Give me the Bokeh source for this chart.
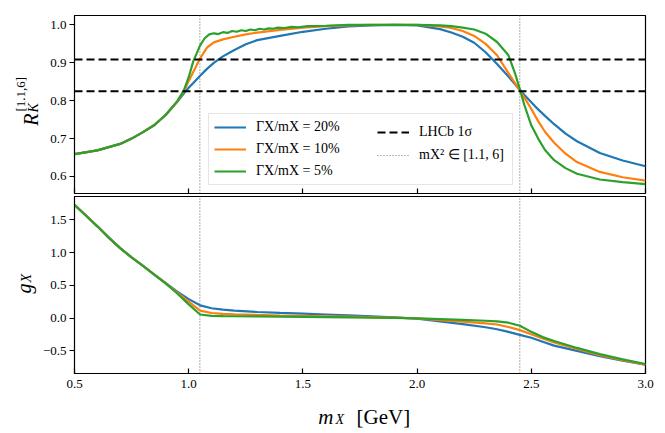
import numpy as np
from bokeh.plotting import figure
from bokeh.layouts import column
from bokeh.models import (Range1d, FixedTicker, Legend, LegendItem, Label, CustomJSTickFormatter)
from bokeh.embed import file_html
from bokeh.resources import INLINE

# ---------------- data ----------------
x_ticks = [0.5, 1.0, 1.5, 2.0, 2.5, 3.0]
rk_ticks = [0.6, 0.7, 0.8, 0.9, 1.0]
g_ticks = [-0.5, 0.0, 0.5, 1.0, 1.5]
rk_range = [0.555, 1.025]
g_range = [-0.845, 1.855]

series_labels = ["ΓX/mX = 20%", "ΓX/mX = 10%", "ΓX/mX = 5%"]
lhcb_label = "LHCb 1σ"
window_label = "mX² ∈ [1.1, 6]"
colors = ["#1f77b4", "#ff7f0e", "#2ca02c"]

lhcb_band = [0.825, 0.909]      # LHCb 1 sigma band on R_K
m2_window = [1.1, 6.0]          # q^2 window in GeV^2

x_rk = [0.5, 0.6, 0.7, 0.75, 0.8, 0.85, 0.9, 0.95, 0.98, 1.0, 1.02, 1.05, 1.08, 1.11,
        1.15, 1.2, 1.25, 1.3, 1.4, 1.5, 1.6, 1.7, 1.8, 1.9, 2.0, 2.1, 2.15, 2.2, 2.25,
        2.3, 2.35, 2.4, 2.43, 2.45, 2.47, 2.5, 2.53, 2.56, 2.6, 2.65, 2.7, 2.8, 2.9, 3.0]
rk_20 = [0.659, 0.669, 0.686, 0.700, 0.717, 0.736, 0.763, 0.797, 0.820, 0.834, 0.847,
         0.866, 0.884, 0.900, 0.917, 0.934, 0.949, 0.960, 0.971, 0.982, 0.990, 0.996,
         0.999, 1.000, 0.999, 0.989, 0.980, 0.969, 0.953, 0.928, 0.897, 0.864, 0.843,
         0.829, 0.815, 0.796, 0.777, 0.760, 0.738, 0.713, 0.693, 0.662, 0.642, 0.627]
rk_10 = [0.659, 0.669, 0.686, 0.700, 0.717, 0.736, 0.763, 0.798, 0.826, 0.852, 0.876,
         0.912, 0.940, 0.954, 0.962, 0.969, 0.975, 0.980, 0.987, 0.993, 0.997, 0.999,
         1.000, 1.000, 1.000, 0.996, 0.992, 0.984, 0.971, 0.950, 0.920, 0.873, 0.845,
         0.827, 0.808, 0.778, 0.746, 0.718, 0.689, 0.660, 0.638, 0.612, 0.598, 0.589]
x_rk_5 = [0.5, 0.6, 0.7, 0.75, 0.8, 0.85, 0.9, 0.95, 0.98, 1.0, 1.02, 1.05, 1.07, 1.09,
          1.11, 1.13, 1.15, 1.17, 1.19, 1.21, 1.23, 1.25, 1.27, 1.29, 1.31, 1.33, 1.35,
          1.37, 1.39, 1.42, 1.45, 1.48, 1.52, 1.6, 1.7, 1.8, 1.9, 2.0, 2.1, 2.15, 2.2,
          2.25, 2.3, 2.35, 2.4, 2.43, 2.45, 2.47, 2.5, 2.53, 2.56, 2.6, 2.65, 2.7, 2.8,
          2.9, 3.0]
rk_5 = [0.659, 0.669, 0.686, 0.700, 0.717, 0.736, 0.763, 0.799, 0.829, 0.862, 0.904,
        0.946, 0.965, 0.975, 0.978, 0.976, 0.981, 0.979, 0.984, 0.982, 0.986, 0.984,
        0.988, 0.986, 0.990, 0.988, 0.991, 0.990, 0.993, 0.992, 0.995, 0.994, 0.997,
        0.998, 1.000, 1.000, 1.000, 1.000, 0.999, 0.997, 0.993, 0.988, 0.977, 0.955,
        0.920, 0.870, 0.830, 0.788, 0.735, 0.700, 0.670, 0.643, 0.622, 0.607, 0.592,
        0.585, 0.580]

x_g = [0.5, 0.55, 0.6, 0.65, 0.7, 0.75, 0.8, 0.85, 0.9, 0.95, 1.0, 1.05, 1.1, 1.15, 1.2,
       1.3, 1.4, 1.5, 1.6, 1.7, 1.8, 1.9, 2.0, 2.1, 2.2, 2.3, 2.35, 2.4, 2.45, 2.5, 2.55,
       2.6, 2.7, 2.8, 2.9, 3.0]
g_20 = [1.727, 1.565, 1.400, 1.228, 1.067, 0.925, 0.795, 0.665, 0.535, 0.405, 0.290,
        0.195, 0.150, 0.128, 0.115, 0.093, 0.079, 0.067, 0.055, 0.042, 0.027, 0.010,
        -0.010, -0.050, -0.092, -0.140, -0.170, -0.210, -0.255, -0.300, -0.360, -0.420,
        -0.500, -0.580, -0.650, -0.712]
g_10 = [1.727, 1.565, 1.400, 1.228, 1.067, 0.925, 0.795, 0.663, 0.530, 0.390, 0.250,
        0.115, 0.078, 0.065, 0.057, 0.048, 0.040, 0.034, 0.028, 0.022, 0.015, 0.007,
        -0.003, -0.030, -0.055, -0.080, -0.098, -0.135, -0.183, -0.245, -0.310, -0.370,
        -0.470, -0.565, -0.640, -0.712]
g_5 = [1.727, 1.565, 1.400, 1.228, 1.067, 0.925, 0.795, 0.660, 0.525, 0.375, 0.210,
       0.055, 0.035, 0.030, 0.028, 0.025, 0.022, 0.019, 0.016, 0.012, 0.007, 0.002,
       -0.003, -0.015, -0.027, -0.040, -0.050, -0.070, -0.117, -0.210, -0.290, -0.350,
       -0.455, -0.550, -0.630, -0.700]

# ---------------- styling helpers ----------------
FONT = "Liberation Serif"
tick_fmt = CustomJSTickFormatter(code="return tick.toFixed(1).replace('-', '\\u2212');")


def style(p, yticks, show_x_labels):
    p.grid.visible = False
    p.outline_line_color = "black"
    p.outline_line_width = 1.2
    p.background_fill_color = "white"
    p.border_fill_color = "white"
    xa = p.xaxis[0]
    xa.ticker = FixedTicker(ticks=x_ticks)
    xa.major_tick_in = 5
    xa.major_tick_out = 0
    xa.minor_tick_line_color = None
    xa.axis_line_color = "black"
    xa.major_tick_line_color = "black"
    xa.major_tick_line_width = 1.2
    if show_x_labels:
        xa.formatter = tick_fmt
        xa.major_label_text_font = FONT
        xa.major_label_text_font_size = "13px"
        xa.major_label_text_color = "black"
        xa.major_label_standoff = 6
    else:
        xa.formatter = CustomJSTickFormatter(code="return '';")
        xa.major_label_text_font_size = "0px"
        xa.major_label_standoff = 0
    ya = p.yaxis[0]
    ya.ticker = FixedTicker(ticks=yticks)
    ya.formatter = tick_fmt
    ya.major_tick_in = 0
    ya.major_tick_out = 5
    ya.minor_tick_line_color = None
    ya.axis_line_color = "black"
    ya.major_tick_line_color = "black"
    ya.major_tick_line_width = 1.2
    ya.major_label_text_font = FONT
    ya.major_label_text_font_size = "13px"
    ya.major_label_text_color = "black"
    ya.major_label_standoff = 3


def piece(p, side, text, x, y, size, italic=False, align="left", angle=0.0):
    """A piece of an axis title, placed in canvas pixels inside a side panel."""
    p.add_layout(Label(x=x, y=y, x_units="canvas", y_units="canvas", text=text,
                       angle=angle, text_align=align, text_baseline="alphabetic",
                       text_font=FONT, text_font_size=size,
                       text_font_style="italic" if italic else "normal",
                       text_color="black"), side)


xr = Range1d(x_ticks[0], x_ticks[-1])
x_ends = [x_ticks[0], x_ticks[-1]]
window_x = [float(np.sqrt(m2)) for m2 in m2_window]
UP = np.pi / 2
WIN_STYLE = dict(line_color="#777777", line_dash="1 2", line_width=1.2)

# ---------------- top panel ----------------
top = figure(frame_width=571, frame_height=178, x_range=xr,
             y_range=Range1d(*rk_range),
             output_backend="svg", toolbar_location=None,
             min_border_left=74, min_border_right=12, min_border_top=15, min_border_bottom=1)
style(top, rk_ticks, False)

r_win = top.multi_line(xs=[[w, w] for w in window_x], ys=[rk_range for _ in window_x],
                       **WIN_STYLE)
renderers = []
for (xs, ys), c in zip([(x_rk, rk_20), (x_rk, rk_10), (x_rk_5, rk_5)], colors):
    renderers.append(top.line(xs, ys, line_color=c, line_width=2.2))
r_lhcb = top.multi_line(xs=[x_ends for _ in lhcb_band], ys=[[v, v] for v in lhcb_band],
                        line_color="black", line_dash="8 4", line_width=2)

common = dict(label_text_font=FONT, label_text_font_size="14px", label_text_color="black",
              glyph_width=32, glyph_height=16, label_height=16, label_standoff=10,
              spacing=6, padding=5, margin=0)
leg1 = Legend(items=[LegendItem(label=l, renderers=[r]) for l, r in zip(series_labels, renderers)],
              location=(134, 8), label_width=251,
              border_line_color="#cccccc", border_line_width=1,
              background_fill_color="white", background_fill_alpha=0.85, **common)
leg2 = Legend(items=[LegendItem(label=lhcb_label, renderers=[r_lhcb]),
                     LegendItem(label=window_label, renderers=[r_win])],
              location=(303, 30), label_width=20,
              border_line_color=None, background_fill_alpha=0.0, **common)
top.add_layout(leg1)
top.add_layout(leg2)

# y title  R_K^[1.1,6]   (canvas pixels of the top figure)
piece(top, "left", "R", 30, 113, "20px", italic=True, align="right", angle=UP)
piece(top, "left", "[1.1,6]", 20, 111, "13px", angle=UP)
piece(top, "above", "K", 33, 112, "14px", italic=True, angle=UP)

# ---------------- bottom panel ----------------
bot = figure(frame_width=571, frame_height=177, x_range=xr, y_range=Range1d(*g_range),
             output_backend="svg", toolbar_location=None,
             min_border_left=74, min_border_right=12, min_border_top=2, min_border_bottom=60)
style(bot, g_ticks, True)

bot.multi_line(xs=[[w, w] for w in window_x], ys=[g_range for _ in window_x], **WIN_STYLE)
for ys, c in zip([g_20, g_10, g_5], colors):
    bot.line(x_g, ys, line_color=c, line_width=2.2)

# titles of the bottom figure (canvas pixels of the bottom figure)
# y title  g_X
piece(bot, "below", "g", 23, 89, "20px", italic=True, align="right", angle=UP)
piece(bot, "left", "X", 26, 88, "14px", italic=True, angle=UP)
# x title  m_X [GeV]
piece(bot, "left", "m", 333, 222, "21px", italic=True, align="right")
piece(bot, "right", "X", 335, 225, "14px", italic=True)
piece(bot, "below", "[GeV]", 356, 222, "21px")

layout = column(top, bot, spacing=0)
open("out.html", "w").write(file_html(layout, INLINE))
